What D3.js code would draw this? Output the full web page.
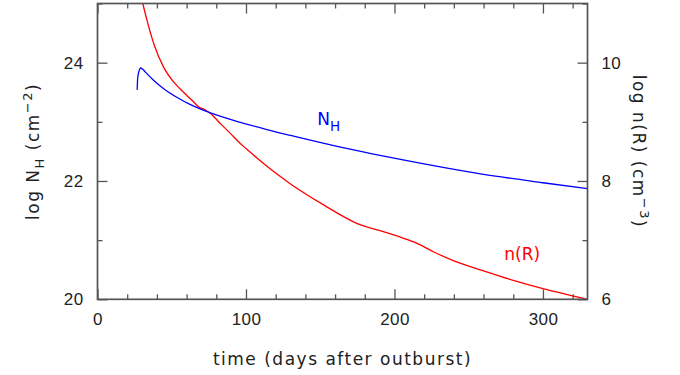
<!DOCTYPE html>
<html>
<head>
<meta charset="utf-8">
<script src="https://cdn.jsdelivr.net/npm/d3@7"></script>
<style>
  html, body { margin: 0; padding: 0; background: #fff; }
  svg { display: block; font-family: "DejaVu Sans", sans-serif; }
</style>
</head>
<body>
<div id="chart"></div>
<script>
// --- data ---
// N_H column density (left axis, log cm^-2)
const nhDays = [26.7, 27.1, 28, 29, 30.5, 32.3, 37.9, 44.6, 53.7, 62.6, 76.1, 96.3, 114, 130, 157, 185, 211, 258, 300, 330];
const nhLog  = [23.54, 23.75, 23.86, 23.91, 23.89, 23.84, 23.70, 23.56, 23.41, 23.29, 23.15, 22.99, 22.87, 22.77, 22.61, 22.46, 22.33, 22.12, 21.97, 21.87];

// n(R) density (right axis, log cm^-3)
const nrDays = [30.5, 33.4, 37.9, 44.6, 51.4, 55.9, 60.4, 63.8, 68.2, 72.7, 76.1, 82.8, 89.6, 96.3, 100, 112, 130, 152, 175, 193, 204, 213, 226.5, 240, 260, 280, 300, 330];
const nrLog  = [11.0, 10.71, 10.32, 9.92, 9.67, 9.55, 9.44, 9.36, 9.25, 9.20, 9.14, 8.97, 8.80, 8.63, 8.55, 8.29, 7.95, 7.60, 7.28, 7.14, 7.05, 6.97, 6.80, 6.65, 6.48, 6.32, 6.18, 6.00];

const xMajor = [0, 100, 200, 300];
const xMinor = [20, 40, 60, 80, 120, 140, 160, 180, 220, 240, 260, 280, 320];
const leftMajor = [20, 22, 24];
const leftMinor = [21, 23, 25];
const rightMajor = [6, 8, 10];
const rightMinor = [7, 9, 11];

const W = 680, H = 375;
const margin = {top: 3.5, right: 92.5, bottom: 75.7, left: 97.5};
const width = W - margin.left - margin.right;
const height = H - margin.top - margin.bottom;

const frameColor = "#555";
const textColor = "#222";

const svg = d3.select("#chart").append("svg")
    .attr("width", W).attr("height", H);
const g = svg.append("g").attr("transform", `translate(${margin.left},${margin.top})`);

const x = d3.scaleLinear().domain([0, 330]).range([0, width]);
const yL = d3.scaleLinear().domain([20, 25]).range([height, 0]);
const yR = d3.scaleLinear().domain([6, 11]).range([height, 0]);

// ticks (all pointing inward, mirrored on every side)
function tickAxis(axis, values, size, transform, labels) {
    const a = g.append("g").attr("transform", transform)
        .call(axis.tickValues(values).tickSize(size).tickPadding(labels ? 14 : 3)
              .tickFormat(labels ? d3.format("d") : ""));
    a.select(".domain").remove();
    a.selectAll("line").attr("stroke", frameColor).attr("stroke-width", 1.3);
    a.selectAll("text").attr("fill", textColor).style("font-size", "17px")
        .style("letter-spacing", "0.4px");
    return a;
}
tickAxis(d3.axisBottom(x), xMajor, -10, `translate(0,${height})`, true);
tickAxis(d3.axisBottom(x), xMinor, -5, `translate(0,${height})`, false);
tickAxis(d3.axisTop(x), xMajor, -10, "translate(0,0)", false);
tickAxis(d3.axisTop(x), xMinor, -5, "translate(0,0)", false);
tickAxis(d3.axisLeft(yL), leftMajor, -10, "translate(0,0)", true);
tickAxis(d3.axisLeft(yL), leftMinor, -5, "translate(0,0)", false);
tickAxis(d3.axisRight(yR), rightMajor, -10, `translate(${width},0)`, true);
tickAxis(d3.axisRight(yR), rightMinor, -5, `translate(${width},0)`, false);

// curves
const nhData = nhDays.map((d, i) => ({t: d, v: nhLog[i]}));
const nrData = nrDays.map((d, i) => ({t: d, v: nrLog[i]}));

g.append("path").datum(nrData)
    .attr("fill", "none").attr("stroke", "#ff0000").attr("stroke-width", 1.3)
    .attr("d", d3.line().x(d => x(d.t)).y(d => yR(d.v)).curve(d3.curveMonotoneX));
g.append("path").datum(nhData)
    .attr("fill", "none").attr("stroke", "#0000ff").attr("stroke-width", 1.3)
    .attr("d", d3.line().x(d => x(d.t)).y(d => yL(d.v)).curve(d3.curveMonotoneX));

// frame
g.append("rect").attr("width", width).attr("height", height)
    .attr("fill", "none").attr("stroke", frameColor).attr("stroke-width", 1.7);

// curve labels
const nhLabel = g.append("text").attr("x", x(148)).attr("y", yL(22.95))
    .attr("fill", "#0000ff").style("font-size", "17px");
nhLabel.append("tspan").text("N");
nhLabel.append("tspan").attr("dy", 6).style("font-size", "13.5px").text("H");

g.append("text").attr("x", x(274)).attr("y", yR(6.66))
    .attr("fill", "#ff0000").style("font-size", "17px").text("n(R)");

// axis titles
const titleStyle = sel => sel.attr("fill", textColor).attr("text-anchor", "middle")
    .style("font-size", "17px").style("letter-spacing", "1.5px");

svg.append("text").attr("x", margin.left + width / 2).attr("y", 365)
    .call(titleStyle).text("time (days after outburst)");

const lt = svg.append("text")
    .attr("transform", `translate(39,${margin.top + height / 2}) rotate(-90)`)
    .call(titleStyle);
lt.append("tspan").text("log N");
lt.append("tspan").attr("dy", 5).style("font-size", "13px").text("H");
lt.append("tspan").attr("dy", -5).text(" (cm");
lt.append("tspan").attr("dy", -7).style("font-size", "13px").text("\u22122");
lt.append("tspan").attr("dy", 7).text(")");

const rt = svg.append("text")
    .attr("transform", `translate(633,${margin.top + height / 2}) rotate(90)`)
    .call(titleStyle);
rt.append("tspan").text("log n(R) (cm");
rt.append("tspan").attr("dy", -7).style("font-size", "13px").text("\u22123");
rt.append("tspan").attr("dy", 7).text(")");
</script>
</body>
</html>
